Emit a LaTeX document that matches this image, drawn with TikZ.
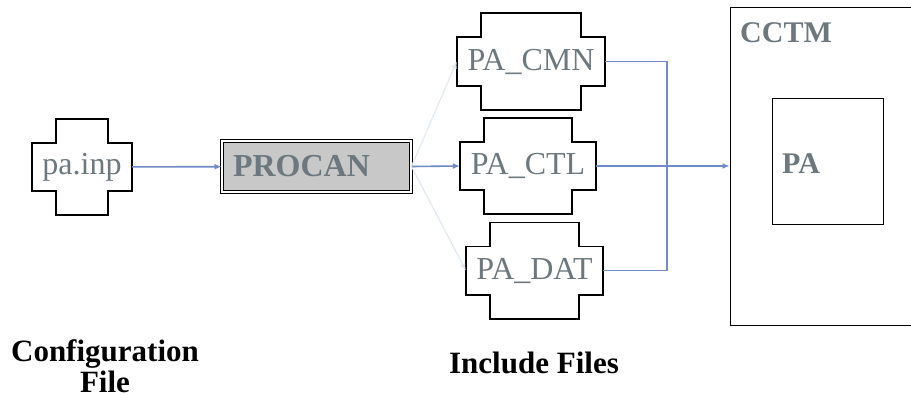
\documentclass[tikz,border=0pt]{standalone}
\usepackage{fontspec}
\setmainfont{Liberation Serif}
\usetikzlibrary{arrows.meta,positioning,calc}

\definecolor{labgray}{RGB}{108,120,126}
\definecolor{linkblue}{RGB}{112,138,200}
\definecolor{faint}{RGB}{226,233,241}
\definecolor{procgray}{RGB}{200,200,200}

\tikzset{
  filenode/.style={minimum height=48pt,inner sep=0pt,text=labgray,font=\fontsize{32}{32}\selectfont},
  crossline/.style={line width=1.6pt,line join=miter},
  link/.style={linkblue,line width=1.6pt},
  linkarrow/.style={link,-{Latex[length=7pt,width=6pt]}},
  fainterrow/.style={faint,line width=1.2pt,-{Latex[length=7pt,width=6pt]}},
  caption/.style={font=\fontsize{31}{31}\selectfont\bfseries,align=center}
}

\newcommand{\filecross}[1]{%
  \draw[crossline] (#1.north west) -- ([xshift=24pt]#1.north west) -- ++(0,24pt)
    -| ([xshift=-24pt]#1.north east) -- (#1.north east) -- (#1.south east)
    -- ([xshift=-24pt]#1.south east) -- ++(0,-24pt) -| ([xshift=24pt]#1.south west)
    -- (#1.south west) -- cycle;}

\begin{document}
\begin{tikzpicture}[x=1pt,y=1pt]
    \useasboundingbox (0,0) rectangle (911,400);

    \node[filenode,minimum width=100pt] (painp) at (82,233) {pa.inp};
    \filecross{painp}

    \node[draw,line width=1pt,double=white,double distance=1.5pt,fill=procgray,
          minimum height=51pt,inner xsep=11pt,inner ysep=0pt,text width=167pt,align=left,
          text=labgray,font=\fontsize{32}{32}\selectfont\bfseries] (procan) at (316.5,233.5) {PROCAN};

    \node[filenode,minimum width=148pt] (cmn) at (531,338.5) {PA\_CMN};
    \node[filenode,minimum width=136pt] (ctl) at (528,234) {PA\_CTL};
    \node[filenode,minimum width=137pt] (dat) at (534.5,129.5) {PA\_DAT};
    \filecross{cmn}
    \filecross{ctl}
    \filecross{dat}

    \node[draw,line width=0.9pt,minimum width=182pt,minimum height=318pt,inner sep=0pt] (cctm) at (821,234) {};
    \node[anchor=base west,inner sep=0pt,text=labgray,font=\fontsize{30}{30}\selectfont\bfseries] (cctmlab) at (740,357) {CCTM};
    \node[draw,line width=0.9pt,minimum width=111pt,minimum height=126pt,inner sep=0pt] (pabox) at (827.5,239) {};
    \node[anchor=base west,inner sep=0pt,text=labgray,font=\fontsize{30}{30}\selectfont\bfseries] (palab) at (782,227) {PA};

    \coordinate (join) at (667,234);

    \draw[linkarrow] (painp) -- (procan);
    \draw[linkarrow] (procan.east) -- (ctl.west);
    \draw[fainterrow] (procan.east) -- (cmn.west);
    \draw[fainterrow] (procan.east) -- (dat.west);
    \draw[link] (cmn.east) -| (join);
    \draw[link] (dat.east) -| (join);
    \draw[linkarrow] (ctl.east) -- (cctm.west);

    \node[caption] (conf) at (105,34) {Configuration\\File};
    \node[caption,anchor=base] (incl) at (534,27) {Include Files};
\end{tikzpicture}
\end{document}
